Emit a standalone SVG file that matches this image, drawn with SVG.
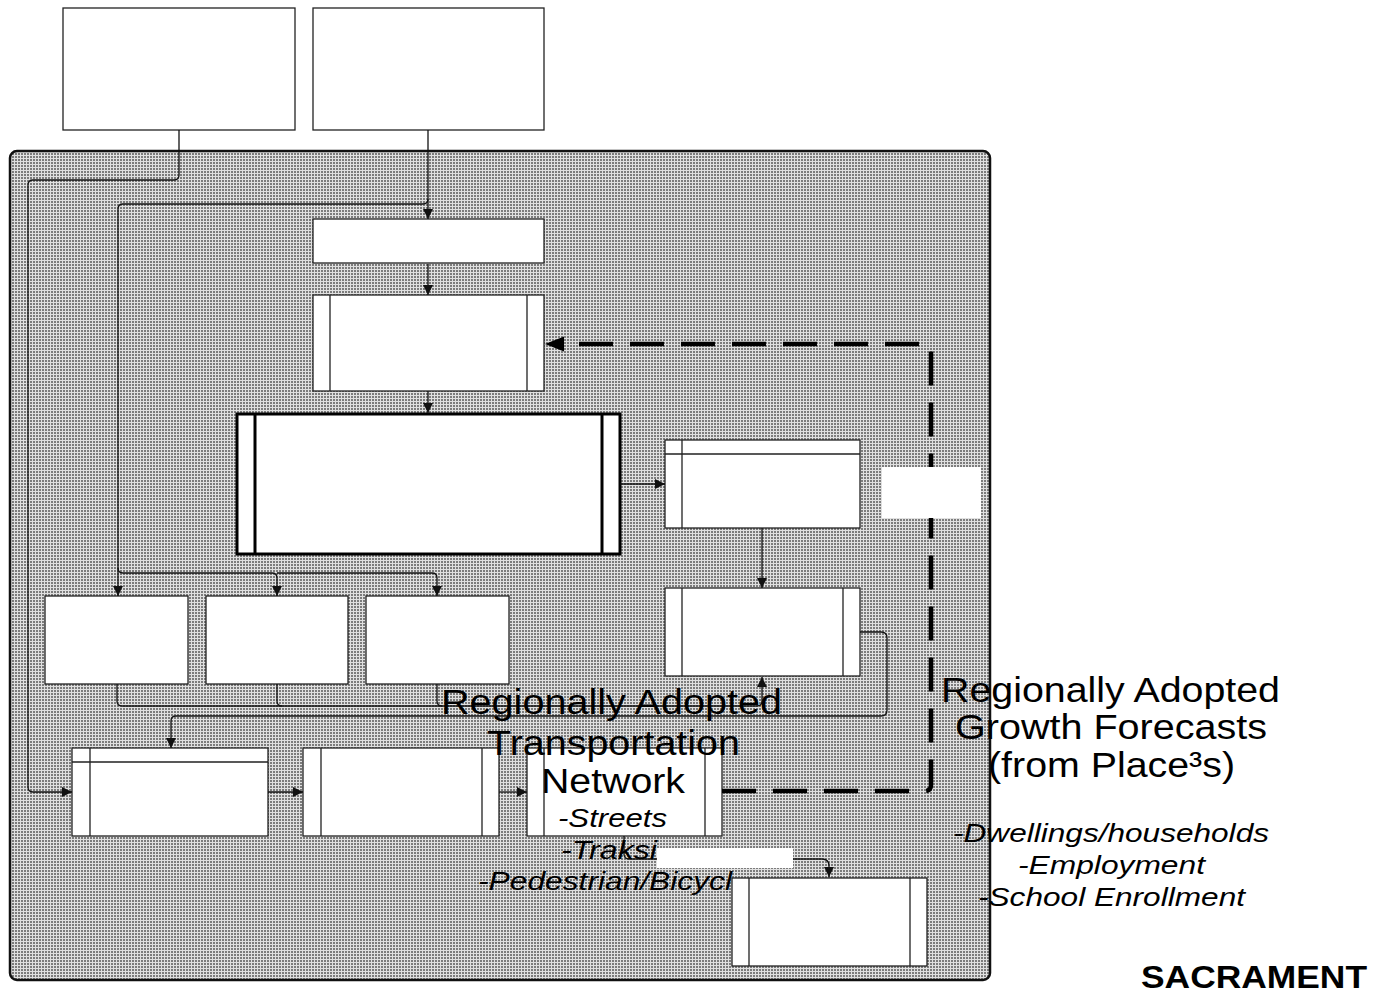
<svg xmlns="http://www.w3.org/2000/svg" width="1374" height="994" viewBox="0 0 1374 994">
<style>
.box{fill:#fff;stroke:#222;stroke-width:1.3}
.ln{fill:none;stroke:#222;stroke-width:1.3}
.thick{fill:#fff;stroke:#000;stroke-width:3}
.thickln{fill:none;stroke:#000;stroke-width:3}
.con{fill:none;stroke:#111;stroke-width:1.3}
.arr{fill:none;stroke:#111;stroke-width:1.3;marker-end:url(#ah)}
.dash{fill:none;stroke:#000;stroke-width:4.5;stroke-dasharray:34 17}
.lbl{fill:#fff;stroke:none}
.big{font-family:"Liberation Sans",Arial,sans-serif;font-size:35px;fill:#000}
.it{font-family:"Liberation Sans",Arial,sans-serif;font-size:25px;font-style:italic;fill:#000}
.bold{font-family:"Liberation Sans",Arial,sans-serif;font-size:32px;font-weight:bold;fill:#000}
</style>
<defs>
<pattern id="dots" width="3" height="3" patternUnits="userSpaceOnUse">
<rect width="3" height="3" fill="#e0e0e0"/>
<rect width="2" height="2" fill="#7c7c7c"/>
</pattern>
<marker id="ah" markerWidth="11" markerHeight="11" refX="10" refY="5.5" orient="auto" markerUnits="userSpaceOnUse">
<path d="M0,0.5 L10,5.5 L0,10.5 Z" fill="#111"/>
</marker>
</defs>
<rect width="1374" height="994" fill="#fff"/>
<rect id="panel" x="10" y="151" width="980" height="829" rx="7" fill="url(#dots)" stroke="#111" stroke-width="2.5"/>

<g id="boxA"><rect class="box" x="63" y="8" width="232" height="122"/></g>
<g id="boxB"><rect class="box" x="313" y="8" width="231" height="122"/></g>
<g id="boxC"><rect class="box" x="313" y="219" width="231" height="44"/></g>
<g id="boxD"><rect class="box" x="313" y="295" width="231" height="96"/><path class="ln" d="M330,295V391M527,295V391"/></g>
<g id="boxE"><rect class="thick" x="237" y="414" width="383" height="140"/><path class="thickln" d="M255,414V554M602,414V554"/></g>
<g id="boxF"><rect class="box" x="665" y="440" width="195" height="88"/><path class="ln" d="M665,454H860M682,440V528"/></g>
<g id="boxH"><rect class="box" x="665" y="588" width="195" height="88"/><path class="ln" d="M682,588V676M843,588V676"/></g>
<g id="boxI1"><rect class="box" x="45" y="596" width="143" height="88"/></g>
<g id="boxI2"><rect class="box" x="206" y="596" width="142" height="88"/></g>
<g id="boxI3"><rect class="box" x="366" y="596" width="143" height="88"/></g>
<g id="boxJ"><rect class="box" x="72" y="748" width="196" height="88"/><path class="ln" d="M72,762H268M90,748V836"/></g>
<g id="boxK"><rect class="box" x="303" y="748" width="196" height="88"/><path class="ln" d="M321,748V836M482,748V836"/></g>
<g id="boxL"><rect class="box" x="527" y="748" width="195" height="88"/><path class="ln" d="M544,748V836M705,748V836"/></g>
<g id="boxN"><rect class="box" x="732" y="878" width="195" height="88"/><path class="ln" d="M749,878V966M910,878V966"/></g>

<g id="connectors">
<path class="arr" d="M179,130V175Q179,180 174,180H33Q28,180 28,185V787Q28,792 33,792H72"/>
<path class="arr" d="M428,130V219"/>
<path class="arr" d="M428,199Q428,204 423,204H123Q118,204 118,209V596"/>
<path class="arr" d="M118,568Q118,573 123,573H272Q277,573 277,578V596"/>
<path class="arr" d="M277,573H432Q437,573 437,578V596"/>
<path class="arr" d="M428,264V295"/>
<path class="arr" d="M428,391V413"/>
<path class="arr" d="M620,484H665"/>
<path class="arr" d="M762,528V588"/>
<path class="arr" d="M117,684V701Q117,706 122,706H757Q762,706 762,701V677"/>
<path class="con" d="M277,684V701Q277,706 282,706M437,684V701Q437,706 442,706"/>
<path class="arr" d="M860,632H881Q887,632 887,638V710Q887,716 881,716H176Q171,716 171,721V748"/>
<path class="arr" d="M268,792H303"/>
<path class="arr" d="M499,792H527"/>
<path class="arr" d="M624,836V854Q624,859 629,859H822Q829,859 829,866V877"/>
<path class="dash" d="M722,791H925Q931,791 931,785V350Q931,344 925,344H563"/>
<polygon points="545,344 564,336.5 564,351.5" fill="#000"/>
</g>

<g id="labelBacks">
<rect class="lbl" x="882" y="467" width="99" height="51"/>
<rect class="lbl" x="657" y="848" width="136" height="20"/>
</g>

<g id="textsLeft">
<text class="big" x="441" y="714" textLength="341" lengthAdjust="spacingAndGlyphs">Regionally Adopted</text>
<text class="big" x="487" y="755" textLength="253" lengthAdjust="spacingAndGlyphs">Transportation</text>
<text class="big" x="541" y="793" textLength="144" lengthAdjust="spacingAndGlyphs">Network</text>
<text class="it" x="558" y="827" textLength="109" lengthAdjust="spacingAndGlyphs">-Streets</text>
<text class="it" x="561" y="859" textLength="96" lengthAdjust="spacingAndGlyphs">-Traksi</text>
<text class="it" x="478" y="890" textLength="254" lengthAdjust="spacingAndGlyphs">-Pedestrian/Bicycl</text>
</g>

<g id="textsRight">
<text class="big" x="941" y="702" textLength="339" lengthAdjust="spacingAndGlyphs">Regionally Adopted</text>
<text class="big" x="955" y="739" textLength="312" lengthAdjust="spacingAndGlyphs">Growth Forecasts</text>
<text class="big" x="988" y="777" textLength="247" lengthAdjust="spacingAndGlyphs">(from Place³s)</text>
<text class="it" x="953" y="842" textLength="316" lengthAdjust="spacingAndGlyphs">-Dwellings/households</text>
<text class="it" x="1018" y="874" textLength="187" lengthAdjust="spacingAndGlyphs">-Employment</text>
<text class="it" x="978" y="906" textLength="267" lengthAdjust="spacingAndGlyphs">-School Enrollment</text>
<text class="bold" x="1141" y="988" textLength="226" lengthAdjust="spacingAndGlyphs">SACRAMENT</text>
</g>
</svg>
